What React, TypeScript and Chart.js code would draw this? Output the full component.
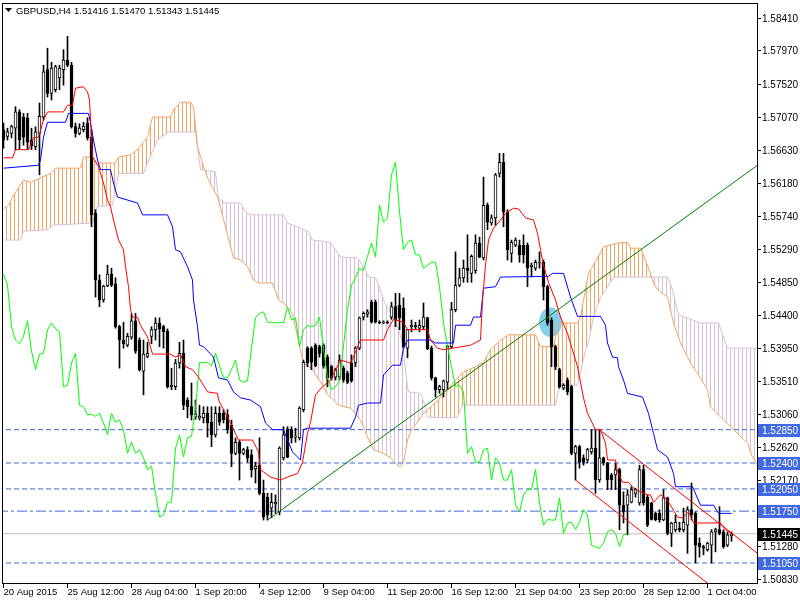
import { useEffect, useRef } from 'react';
import { Chart, registerables } from 'chart.js';

Chart.register(...registerables);

// ---------------- data ----------------
const symbolLabel = 'GBPUSD,H4';
const lastBarQuote = ['1.51416', '1.51470', '1.51343', '1.51445'];

// H4 candles, one per bar index (0 = first visible bar)
const opens = [
  1.5690, 1.5681, 1.5685, 1.5692, 1.5714, 1.5707, 1.5706, 1.5676, 1.5667, 1.5685,
  1.5707, 1.5771, 1.5739, 1.5744, 1.5760, 1.5771, 1.5784, 1.5777, 1.5694, 1.5685,
  1.5690, 1.5699, 1.5680, 1.5577, 1.5487, 1.5460, 1.5479, 1.5495, 1.5482, 1.5424,
  1.5406, 1.5399, 1.5410, 1.5432, 1.5406, 1.5364, 1.5384, 1.5411, 1.5420, 1.5429,
  1.5424, 1.5418, 1.5343, 1.5343, 1.5375, 1.5388, 1.5325, 1.5316, 1.5302, 1.5301,
  1.5301, 1.5307, 1.5295, 1.5278, 1.5307, 1.5307, 1.5305, 1.5291, 1.5253, 1.5268,
  1.5253, 1.5258, 1.5251, 1.5232, 1.5237, 1.5199, 1.5194, 1.5179, 1.5185, 1.5174,
  1.5247, 1.5286, 1.5285, 1.5275, 1.5274, 1.5312, 1.5395, 1.5395, 1.5399, 1.5397,
  1.5399, 1.5383, 1.5370, 1.5356, 1.5356, 1.5368, 1.5361, 1.5375, 1.5375, 1.5395,
  1.5437, 1.5441, 1.5457, 1.5457, 1.5430, 1.5429, 1.5430, 1.5437, 1.5451, 1.5453,
  1.5449, 1.5395, 1.5424, 1.5425, 1.5422, 1.5424, 1.5436, 1.5395, 1.5355, 1.5339,
  1.5339, 1.5349, 1.5397, 1.5447, 1.5480, 1.5490, 1.5503, 1.5496, 1.5500, 1.5537,
  1.5517, 1.5588, 1.5564, 1.5571, 1.5631, 1.5646, 1.5579, 1.5523, 1.5534, 1.5534,
  1.5534, 1.5534, 1.5505, 1.5503, 1.5510, 1.5511, 1.5478, 1.5433, 1.5397, 1.5366,
  1.5341, 1.5352, 1.5343, 1.5253, 1.5262, 1.5247, 1.5244, 1.5255, 1.5260, 1.5217,
  1.5247, 1.5240, 1.5224, 1.5224, 1.5231, 1.5183, 1.5183, 1.5187, 1.5199, 1.5186,
  1.5231, 1.5194, 1.5186, 1.5172, 1.5172, 1.5163, 1.5193, 1.5145, 1.5150, 1.5152,
  1.5150, 1.5156, 1.5177, 1.5172, 1.5132, 1.5127, 1.5123, 1.5129, 1.5147, 1.5150,
  1.5147, 1.5129, 1.51416,
];
const highs = [
  1.5699, 1.5692, 1.5696, 1.5721, 1.5717, 1.5712, 1.5712, 1.5692, 1.5694, 1.5726,
  1.5777, 1.5800, 1.5781, 1.5777, 1.5777, 1.5798, 1.5816, 1.5781, 1.5699, 1.5698,
  1.5700, 1.5706, 1.5690, 1.5582, 1.5494, 1.5480, 1.5507, 1.5503, 1.5490, 1.5426,
  1.5430, 1.5415, 1.5442, 1.5442, 1.5409, 1.5406, 1.5403, 1.5424, 1.5436, 1.5436,
  1.5426, 1.5421, 1.5368, 1.5380, 1.5403, 1.5406, 1.5328, 1.5348, 1.5325, 1.5318,
  1.5316, 1.5316, 1.5316, 1.5316, 1.5316, 1.5312, 1.5312, 1.5298, 1.5274, 1.5271,
  1.5260, 1.5262, 1.5258, 1.5241, 1.5274, 1.5217, 1.5199, 1.5199, 1.5197, 1.5262,
  1.5289, 1.5289, 1.5289, 1.5287, 1.5316, 1.5379, 1.5397, 1.5397, 1.5401, 1.5399,
  1.5401, 1.5386, 1.5372, 1.5368, 1.5386, 1.5371, 1.5364, 1.5386, 1.5397, 1.5437,
  1.5444, 1.5447, 1.5460, 1.5460, 1.5432, 1.5432, 1.5432, 1.5457, 1.5469, 1.5469,
  1.5463, 1.5420, 1.5433, 1.5430, 1.5433, 1.5456, 1.5437, 1.5398, 1.5356, 1.5345,
  1.5352, 1.5399, 1.5457, 1.5525, 1.5503, 1.5514, 1.5548, 1.5521, 1.5548, 1.5545,
  1.5626, 1.5591, 1.5575, 1.5631, 1.5658, 1.5658, 1.5582, 1.5541, 1.5544, 1.5541,
  1.5548, 1.5537, 1.5510, 1.5514, 1.5525, 1.5514, 1.5480, 1.5436, 1.5399, 1.5368,
  1.5347, 1.5355, 1.5345, 1.5264, 1.5264, 1.5251, 1.5260, 1.5285, 1.5285, 1.5285,
  1.5248, 1.5241, 1.5226, 1.5240, 1.5233, 1.5201, 1.5204, 1.5208, 1.5206, 1.5237,
  1.5237, 1.5197, 1.5187, 1.5174, 1.5177, 1.5204, 1.5194, 1.5160, 1.5170, 1.5160,
  1.5179, 1.5181, 1.5213, 1.5174, 1.5139, 1.5129, 1.5133, 1.5150, 1.5152, 1.5181,
  1.5150, 1.5147, 1.51470,
];
const lows = [
  1.5665, 1.5676, 1.5679, 1.5663, 1.5663, 1.5669, 1.5663, 1.5663, 1.5663, 1.5629,
  1.5703, 1.5734, 1.5730, 1.5741, 1.5744, 1.5750, 1.5775, 1.5692, 1.5680, 1.5683,
  1.5687, 1.5676, 1.5559, 1.5464, 1.5451, 1.5457, 1.5478, 1.5478, 1.5422, 1.5368,
  1.5395, 1.5397, 1.5407, 1.5388, 1.5364, 1.5332, 1.5382, 1.5401, 1.5406, 1.5397,
  1.5395, 1.5341, 1.5339, 1.5339, 1.5368, 1.5312, 1.5301, 1.5298, 1.5299, 1.5298,
  1.5294, 1.5275, 1.5262, 1.5275, 1.5291, 1.5294, 1.5280, 1.5235, 1.5251, 1.5217,
  1.5251, 1.5241, 1.5221, 1.5213, 1.5197, 1.5163, 1.5163, 1.5166, 1.5172, 1.5170,
  1.5244, 1.5247, 1.5267, 1.5268, 1.5271, 1.5309, 1.5370, 1.5366, 1.5370, 1.5383,
  1.5368, 1.5343, 1.5352, 1.5352, 1.5352, 1.5349, 1.5347, 1.5349, 1.5370, 1.5393,
  1.5433, 1.5437, 1.5429, 1.5429, 1.5428, 1.5428, 1.5428, 1.5434, 1.5424, 1.5420,
  1.5395, 1.5382, 1.5417, 1.5420, 1.5417, 1.5420, 1.5393, 1.5352, 1.5329, 1.5334,
  1.5329, 1.5339, 1.5395, 1.5444, 1.5478, 1.5484, 1.5484, 1.5484, 1.5496, 1.5517,
  1.5514, 1.5555, 1.5561, 1.5561, 1.5626, 1.5559, 1.5514, 1.5511, 1.5532, 1.5511,
  1.5510, 1.5478, 1.5491, 1.5500, 1.5503, 1.5460, 1.5426, 1.5370, 1.5366, 1.5341,
  1.5339, 1.5332, 1.5251, 1.5217, 1.5233, 1.5237, 1.5240, 1.5252, 1.5199, 1.5214,
  1.5237, 1.5204, 1.5204, 1.5204, 1.5150, 1.5159, 1.5143, 1.5186, 1.5194, 1.5183,
  1.5183, 1.5154, 1.5163, 1.5162, 1.5160, 1.5162, 1.5143, 1.5127, 1.5147, 1.5147,
  1.5147, 1.5118, 1.5163, 1.5105, 1.5113, 1.5116, 1.5121, 1.5105, 1.5120, 1.5143,
  1.5125, 1.5127, 1.51343,
];
const closes = [
  1.5676, 1.5687, 1.5694, 1.5714, 1.5676, 1.5680, 1.5673, 1.5668, 1.5687, 1.5708,
  1.5768, 1.5739, 1.5773, 1.5775, 1.5773, 1.5784, 1.5777, 1.5694, 1.5685, 1.5692,
  1.5695, 1.5679, 1.5575, 1.5487, 1.5460, 1.5479, 1.5495, 1.5480, 1.5424, 1.5406,
  1.5401, 1.5411, 1.5432, 1.5391, 1.5366, 1.5387, 1.5388, 1.5420, 1.5429, 1.5421,
  1.5417, 1.5343, 1.5345, 1.5375, 1.5388, 1.5318, 1.5316, 1.5305, 1.5306, 1.5303,
  1.5307, 1.5294, 1.5278, 1.5307, 1.5295, 1.5298, 1.5285, 1.5253, 1.5268, 1.5253,
  1.5258, 1.5247, 1.5231, 1.5236, 1.5199, 1.5167, 1.5170, 1.5187, 1.5187, 1.5260,
  1.5278, 1.5248, 1.5274, 1.5276, 1.5314, 1.5376, 1.5375, 1.5376, 1.5371, 1.5388,
  1.5371, 1.5355, 1.5355, 1.5366, 1.5379, 1.5352, 1.5349, 1.5351, 1.5395, 1.5436,
  1.5442, 1.5444, 1.5430, 1.5430, 1.5429, 1.5430, 1.5429, 1.5451, 1.5433, 1.5436,
  1.5397, 1.5420, 1.5426, 1.5424, 1.5426, 1.5437, 1.5394, 1.5355, 1.5339, 1.5343,
  1.5351, 1.5398, 1.5447, 1.5480, 1.5490, 1.5503, 1.5500, 1.5519, 1.5537, 1.5518,
  1.5588, 1.5565, 1.5571, 1.5629, 1.5646, 1.5579, 1.5528, 1.5538, 1.5541, 1.5521,
  1.5521, 1.5503, 1.5507, 1.5511, 1.5511, 1.5478, 1.5429, 1.5397, 1.5370, 1.5343,
  1.5345, 1.5336, 1.5253, 1.5262, 1.5241, 1.5241, 1.5258, 1.5260, 1.5217, 1.5247,
  1.5240, 1.5217, 1.5217, 1.5231, 1.5183, 1.5174, 1.5197, 1.5204, 1.5204, 1.5231,
  1.5186, 1.5156, 1.5164, 1.5163, 1.5163, 1.5193, 1.5145, 1.5159, 1.5160, 1.5150,
  1.5160, 1.5177, 1.5170, 1.5129, 1.5127, 1.5125, 1.5132, 1.5147, 1.5150, 1.5145,
  1.5127, 1.5143, 1.51445,
];

// Ichimoku lines: [bar index, price] vertices
const tenkanLine: [number, number][] = [
  [0, 1.5652], [2.25, 1.5652], [3, 1.5663], [6.25, 1.5663], [7.5, 1.5679], [8.75, 1.5680],
  [10, 1.5703], [11, 1.5714], [15, 1.5714], [16, 1.5723], [17.25, 1.5723], [18, 1.5746],
  [20, 1.5748], [21, 1.5741], [21.5, 1.5730], [22.25, 1.5653], [23.75, 1.5640], [25, 1.5618],
  [26, 1.5595], [26.75, 1.5586], [27.5, 1.5568], [28.75, 1.5541], [30, 1.5528], [30.5, 1.5505],
  [31.25, 1.5478], [31.75, 1.5447], [32.25, 1.5437], [33.5, 1.5437], [34.25, 1.5426], [36, 1.5410],
  [37.25, 1.5387], [41.75, 1.5387], [43, 1.5383], [44.25, 1.5386], [45.5, 1.5370], [47.25, 1.5366],
  [48.75, 1.5356], [51, 1.5336], [53.5, 1.5334], [53.75, 1.5325], [56.75, 1.5294], [58.75, 1.5271],
  [62.25, 1.5271], [63.75, 1.5255], [64.25, 1.5231], [66.75, 1.5221], [69.25, 1.5217], [71, 1.5221],
  [73.5, 1.5226], [74.75, 1.5241], [76, 1.5280], [76.75, 1.5295], [78, 1.5332], [79.75, 1.5343],
  [81.75, 1.5352], [84.25, 1.5379], [86.75, 1.5375], [87.5, 1.5383], [88.5, 1.5397], [89.25, 1.5406],
  [95, 1.5406], [96, 1.5420], [97.5, 1.5434], [100, 1.5430], [101, 1.5420], [106, 1.5420],
  [106.75, 1.5406], [108.5, 1.5395], [110, 1.5393], [112.25, 1.5395], [116.75, 1.5399], [119.25, 1.5406],
  [119.75, 1.5460], [120.5, 1.5507], [121.25, 1.5541], [122.5, 1.5557], [124.25, 1.5568], [125.5, 1.5577],
  [127.5, 1.5584], [128.75, 1.5583], [130.5, 1.5571], [132.5, 1.5568], [133.5, 1.5550], [134.25, 1.5528],
  [135, 1.5507], [136.25, 1.5484], [138, 1.5460], [139.25, 1.5437], [141, 1.5415], [143.5, 1.5370],
  [145, 1.5328], [146, 1.5307], [148, 1.5285], [149.25, 1.5285], [150.5, 1.5267], [151, 1.5244],
  [153, 1.5244], [153.5, 1.5228], [154.75, 1.5214], [156.25, 1.5214], [157.25, 1.5208], [158, 1.5204],
  [161, 1.5197], [161.75, 1.5197], [162.5, 1.5187], [164.25, 1.5197], [165.5, 1.5193], [166.75, 1.5183],
  [168.5, 1.5167], [169.75, 1.5166], [171.25, 1.5174], [172.5, 1.5159], [179.25, 1.5159], [180.5, 1.5150],
  [182, 1.5145],
];
const kijunLine: [number, number][] = [
  [0, 1.5638], [8.75, 1.5642], [9.25, 1.5649], [10, 1.5680], [11, 1.5700], [15.5, 1.5700],
  [16.25, 1.5712], [21.25, 1.5712], [21.75, 1.5699], [22.5, 1.5676], [23.5, 1.5649], [24.25, 1.5636],
  [26.75, 1.5636], [27.5, 1.5618], [28.5, 1.5599], [33.5, 1.5591], [34.75, 1.5575], [41, 1.5575],
  [42.25, 1.5559], [43, 1.5528], [44.25, 1.5525], [46, 1.5505], [47.25, 1.5487], [47.5, 1.5460],
  [48.5, 1.5424], [49, 1.5399], [50, 1.5397], [52.5, 1.5383], [53.75, 1.5355], [56, 1.5352],
  [57.5, 1.5336], [59.25, 1.5328], [61.75, 1.5325], [64.25, 1.5316], [65.5, 1.5294], [67.25, 1.5285],
  [70, 1.5285], [72.25, 1.5255], [74.25, 1.5244], [75, 1.5285], [76, 1.5287], [86.75, 1.5287],
  [88, 1.5302], [88.75, 1.5318], [91, 1.5321], [94.25, 1.5321], [95, 1.5359], [97.25, 1.5372],
  [99.25, 1.5372], [100, 1.5395], [101, 1.5406], [106.75, 1.5406], [108, 1.5402], [112.5, 1.5402],
  [113, 1.5426], [116.75, 1.5426], [117.5, 1.5437], [119.25, 1.5437], [120, 1.5476], [123, 1.5478],
  [124.25, 1.5491], [136.25, 1.5492], [137.25, 1.5496], [140, 1.5496], [141.75, 1.5464], [143.5, 1.5438],
  [149.25, 1.5438], [150.5, 1.5426], [151, 1.5402], [152.25, 1.5383], [153.5, 1.5382], [153.75, 1.5370],
  [155, 1.5352], [156, 1.5334], [159.75, 1.5329], [161.25, 1.5307], [162.5, 1.5280], [163.5, 1.5258],
  [166, 1.5248], [167.5, 1.5226], [168, 1.5208], [172.25, 1.5208], [174.25, 1.5183], [177.5, 1.5183],
  [178.75, 1.5172], [182, 1.5172],
];
const senkouA: [number, number][] = [
  [0, 1.5583], [1.25, 1.5588], [2.25, 1.5599], [5, 1.5622], [6.75, 1.5619], [11.75, 1.5631],
  [13, 1.5638], [19.25, 1.5638], [20, 1.5653], [22.25, 1.5653], [23.5, 1.5645], [28, 1.5645],
  [28.75, 1.5653], [31.75, 1.5656], [33.5, 1.5663], [36, 1.5680], [37.25, 1.5707], [41.75, 1.5707],
  [42.5, 1.5717], [44.25, 1.5727], [46.75, 1.5727], [47.5, 1.5721], [48.5, 1.5667], [50, 1.5640],
  [51.25, 1.5622], [53.5, 1.5599], [53.75, 1.5595], [57.5, 1.5517], [59.25, 1.5514], [61, 1.5505],
  [62.5, 1.5487], [63.75, 1.5483], [67.25, 1.5483], [68.75, 1.5460], [70, 1.5456], [72.25, 1.5442],
  [74.25, 1.5392], [75, 1.5375], [77.25, 1.5366], [79.75, 1.5345], [81, 1.5332], [81.75, 1.5329],
  [83.75, 1.5318], [86.75, 1.5314], [89.25, 1.5298], [91, 1.5275], [92.5, 1.5258], [95, 1.5253],
  [96.75, 1.5247], [98.5, 1.5237], [99.25, 1.5235], [100, 1.5241], [101, 1.5271], [101.75, 1.5282],
  [103.5, 1.5295], [105, 1.5307], [106, 1.5312], [107.25, 1.5318], [108.75, 1.5325], [109.75, 1.5334],
  [111, 1.5339], [113, 1.5352], [115, 1.5363], [118, 1.5370], [120, 1.5376], [121.75, 1.5393],
  [123.5, 1.5402], [126, 1.5413], [133, 1.5413], [134.25, 1.5397], [137.5, 1.5397], [138.75, 1.5429],
  [143.5, 1.5429], [144.25, 1.5437], [145.5, 1.5474], [146.25, 1.5496], [148.5, 1.5517], [150, 1.5532],
  [153.5, 1.5537], [156, 1.5538], [156.75, 1.5530], [159.25, 1.5530], [161, 1.5507], [162.5, 1.5483],
  [163.5, 1.5474], [166, 1.5464], [167.5, 1.5429], [169.25, 1.5402], [171.75, 1.5375], [174.25, 1.5355],
  [176, 1.5339], [176.75, 1.5316], [179.25, 1.5302], [182.5, 1.5285], [186, 1.5267], [187.25, 1.5248],
  [188.5, 1.5237],
];
const senkouB: [number, number][] = [
  [0, 1.5541], [4.25, 1.5541], [5, 1.5553], [11.25, 1.5555], [12.25, 1.5561], [22.25, 1.5564],
  [23.5, 1.5586], [27.25, 1.5588], [27.5, 1.5595], [28.75, 1.5631], [35, 1.5631], [36, 1.5645],
  [38.5, 1.5676], [41.25, 1.5687], [48, 1.5687], [49.25, 1.5636], [53, 1.5633], [53.75, 1.5595],
  [54.75, 1.5595], [55, 1.5591], [59.25, 1.5591], [60.5, 1.5579], [61.75, 1.5575], [70, 1.5575],
  [71, 1.5564], [74.25, 1.5557], [76.25, 1.5552], [77.25, 1.5541], [81.75, 1.5538], [84.25, 1.5518],
  [88.5, 1.5517], [90, 1.5505], [91.25, 1.5491], [93, 1.5490], [94.25, 1.5474], [95, 1.5460],
  [96.25, 1.5447], [97.5, 1.5437], [98.75, 1.5420], [99.75, 1.5402], [100.5, 1.5366], [101, 1.5343],
  [101.25, 1.5336], [104.25, 1.5334], [105.5, 1.5316], [106, 1.5302], [111.75, 1.5301], [113.5, 1.5302],
  [114.75, 1.5318], [138, 1.5318], [138.75, 1.5339], [139.25, 1.5345], [143.5, 1.5345], [144.25, 1.5363],
  [145.5, 1.5392], [146.25, 1.5403], [147.5, 1.5437], [149.25, 1.5463], [151, 1.5478], [152.5, 1.5491],
  [166, 1.5491], [167.25, 1.5474], [168.75, 1.5440], [174.25, 1.5429], [178.75, 1.5429], [181, 1.5395],
  [188.5, 1.5395],
];
const chikouShift = 26;

// drawn objects
const trendLine: [number, number][] = [[66, 1.5163], [188.5, 1.5642]];
const channelUpper: [number, number][] = [[148.75, 1.5286], [188.5, 1.5118]];
const channelLower: [number, number][] = [[143, 1.5217], [188.5, 1.5025]];
const ellipseBars = [133.9, 139.6];
const ellipsePrices = [1.5410, 1.5450];
const dashedLevels = [1.5285, 1.5240, 1.5205, 1.5105];
const dashDotLevel = 1.5175;
const bidPrice = 1.51445;

// axes
const priceTicks = [
  1.5841, 1.5797, 1.5752, 1.5707, 1.5663, 1.5618, 1.5574, 1.5529, 1.5485,
  1.5440, 1.5395, 1.5351, 1.5306, 1.5262, 1.5217, 1.5128, 1.5083,
];
const timeLabels = [
  '20 Aug 2015', '25 Aug 12:00', '28 Aug 04:00', '1 Sep 20:00', '4 Sep 12:00', '9 Sep 04:00',
  '11 Sep 20:00', '16 Sep 12:00', '21 Sep 04:00', '23 Sep 20:00', '28 Sep 12:00', '1 Oct 04:00',
];
const timeLabelBars = [0, 16, 32, 48, 64, 80, 96, 112, 128, 144, 160, 176];
const priceMin = 1.5078;
const priceMax = 1.5861;
const barMin = -0.375;
const barMax = 188.375;

// ---------------- component ----------------
const PRICE_FONT = '10px "Liberation Sans", Arial, sans-serif';
const TIME_FONT = '9.5px "Liberation Sans", Arial, sans-serif';
const HEADER_FONT = '9.5px "Liberation Sans", Arial, sans-serif';
const LEVEL_BLUE = '#4169E1';

const pts = (a: [number, number][]) => a.map(([x, y]) => ({ x, y }));

export default function App() {
  const ref = useRef<HTMLCanvasElement>(null);

  useEffect(() => {
    const canvas = ref.current;
    if (!canvas) return;
    const ctx0 = canvas.getContext('2d')!;
    const hatch = (color: string) => {
      const pc = document.createElement('canvas');
      pc.width = 4;
      pc.height = 1;
      const p = pc.getContext('2d')!;
      p.fillStyle = color;
      p.fillRect(2, 0, 1, 1);
      return ctx0.createPattern(pc, 'repeat') as CanvasPattern;
    };
    const orangeHatch = hatch('#F4A460');
    const thistleHatch = hatch('#D8BFD8');

    const idx = opens.map((_, i) => i);
    const bull = idx.map((i) => closes[i] >= opens[i]);
    const bodies = idx.map((i) => ({ x: i, y: [opens[i], closes[i]] }));
    const wicks = idx.map((i) => ({ x: i, y: [lows[i], highs[i]] }));
    const chikou = closes.slice(chikouShift).map((c, i) => ({ x: i, y: c }));
    const hline = (p: number) => [{ x: barMin - 1, y: p }, { x: barMax + 1, y: p }];

    const lineDs = (label: string, data: any[], color: string, order: number, extra: any = {}) => ({
      type: 'line' as const,
      label,
      data,
      borderColor: color,
      borderWidth: 1,
      pointRadius: 0,
      tension: 0,
      fill: false,
      order,
      ...extra,
    });

    const datasets: any[] = [
      lineDs('Senkou Span A', pts(senkouA), '#F4A460', 20, {
        fill: { target: 1, above: orangeHatch, below: thistleHatch },
      }),
      lineDs('Senkou Span B', pts(senkouB), '#D8BFD8', 20),
      lineDs('Bid', hline(bidPrice), '#C0C0C0', 15),
      ...dashedLevels.map((p) => lineDs('Level ' + p, hline(p), LEVEL_BLUE, 15, { borderDash: [5, 3] })),
      lineDs('Level ' + dashDotLevel, hline(dashDotLevel), LEVEL_BLUE, 15, { borderDash: [10, 3, 3, 3] }),
      {
        type: 'bar',
        label: 'wicks',
        data: wicks,
        backgroundColor: '#000000',
        borderWidth: 0,
        barThickness: 1,
        minBarLength: 1,
        grouped: false,
        order: 12,
      },
      {
        type: 'bar',
        label: 'bodies',
        data: bodies,
        backgroundColor: (c: any) => (bull[c.dataIndex] ? '#FFFFFF' : '#000000'),
        borderColor: '#000000',
        borderWidth: 1,
        borderSkipped: false,
        barThickness: 3,
        minBarLength: 1,
        grouped: false,
        order: 11,
      },
      lineDs('Chikou Span', chikou, '#00FF00', 5),
      lineDs('Kijun-sen', pts(kijunLine), '#0000FF', 4),
      lineDs('Tenkan-sen', pts(tenkanLine), '#FF0000', 3),
      lineDs('Trend line', pts(trendLine), '#008000', 2),
      lineDs('Channel upper', pts(channelUpper), '#FF0000', 2),
      lineDs('Channel lower', pts(channelLower), '#FF0000', 2),
    ];

    const mt4Plugin = {
      id: 'mt4Frame',
      beforeDraw(chart: any) {
        const c = chart.ctx;
        c.save();
        c.fillStyle = '#FFFFFF';
        c.fillRect(0, 0, chart.width, chart.height);
        c.restore();
      },
      beforeDatasetsDraw(chart: any) {
        const c = chart.ctx;
        const { x, y } = chart.scales;
        const x0 = x.getPixelForValue(ellipseBars[0]);
        const x1 = x.getPixelForValue(ellipseBars[1]);
        const y0 = y.getPixelForValue(ellipsePrices[1]);
        const y1 = y.getPixelForValue(ellipsePrices[0]);
        c.save();
        c.beginPath();
        c.ellipse((x0 + x1) / 2, (y0 + y1) / 2, (x1 - x0) / 2, (y1 - y0) / 2, 0, 0, Math.PI * 2);
        c.fillStyle = '#87CEEB';
        c.fill();
        c.restore();
      },
      afterDraw(chart: any) {
        const c = chart.ctx;
        const { x, y } = chart.scales;
        const area = chart.chartArea;
        c.save();
        // frame
        c.strokeStyle = '#000000';
        c.lineWidth = 1;
        c.strokeRect(area.left + 0.5, area.top + 0.5, area.right - area.left, area.bottom - area.top);
        c.font = PRICE_FONT;
        c.textBaseline = 'alphabetic';
        c.textAlign = 'left';
        // price ticks
        c.fillStyle = '#000000';
        priceTicks.forEach((p) => {
          const py = Math.round(y.getPixelForValue(p)) + 0.5;
          c.beginPath();
          c.moveTo(area.right + 1, py);
          c.lineTo(area.right + 4, py);
          c.stroke();
          c.fillText(p.toFixed(5), area.right + 5, py + 3.5);
        });
        // highlighted price labels
        const box = (p: number, bg: string) => {
          const py = Math.round(y.getPixelForValue(p));
          c.fillStyle = bg;
          c.fillRect(area.right + 1, py - 6, 800 - area.right - 1, 13);
          c.fillStyle = '#FFFFFF';
          c.fillText(p.toFixed(5), area.right + 5, py + 4);
        };
        dashedLevels.forEach((p) => box(p, LEVEL_BLUE));
        box(dashDotLevel, LEVEL_BLUE);
        box(bidPrice, '#000000');
        // time ticks
        c.font = TIME_FONT;
        c.fillStyle = '#000000';
        timeLabelBars.forEach((b, k) => {
          const px = Math.round(x.getPixelForValue(b)) - 0.5;
          c.beginPath();
          c.moveTo(px, area.bottom + 1);
          c.lineTo(px, area.bottom + 5);
          c.stroke();
          c.fillText(timeLabels[k], px, area.bottom + 12);
        });
        // header
        c.font = HEADER_FONT;
        c.beginPath();
        c.moveTo(5, 8);
        c.lineTo(12, 8);
        c.lineTo(8.5, 12);
        c.closePath();
        c.fill();
        c.fillText(symbolLabel, 16, 14);
        c.fillText(lastBarQuote.join(' '), 74, 14);
        c.restore();
      },
    };

    const chart = new Chart(canvas, {
      type: 'line',
      data: { datasets },
      options: {
        animation: false,
        responsive: false,
        devicePixelRatio: 1,
        events: [],
        layout: { padding: { left: 2, top: 3, right: 43, bottom: 17 } },
        scales: {
          x: { type: 'linear', min: barMin, max: barMax, display: false, offset: false },
          y: { type: 'linear', min: priceMin, max: priceMax, display: false },
        },
        plugins: {
          legend: { display: false },
          tooltip: { enabled: false },
          filler: { drawTime: 'beforeDatasetsDraw' },
        },
      } as any,
      plugins: [mt4Plugin],
    });
    return () => chart.destroy();
  }, []);

  return (
    <div style={{ position: 'fixed', left: 0, top: 0, width: 800, height: 600, background: '#FFFFFF' }}>
      <canvas ref={ref} width={800} height={600} style={{ display: 'block', width: 800, height: 600 }} />
    </div>
  );
}
